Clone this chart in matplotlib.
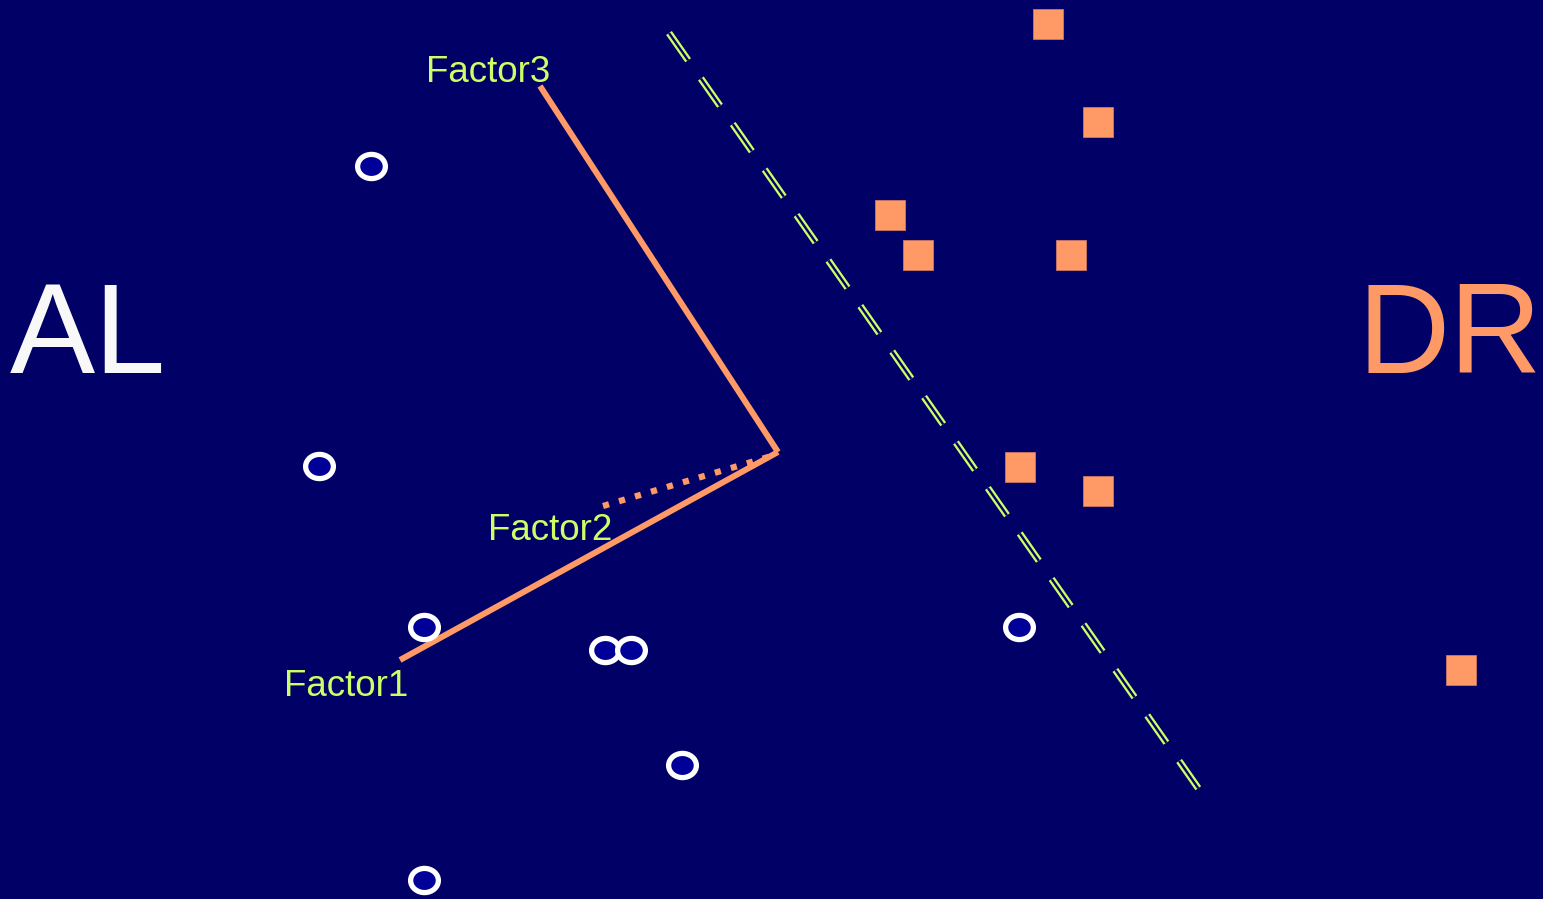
import numpy as np
import matplotlib.pyplot as plt
from matplotlib.path import Path
from matplotlib.transforms import Affine2D

plt.rcParams['font.family'] = ['Liberation Sans', 'DejaVu Sans']
plt.rcParams['lines.scale_dashes'] = False

# points (pixel-like coordinates, y down)
al_x = [371, 319, 424, 605, 631, 682, 424, 1019]
al_y = [166, 466, 627, 650, 650, 765, 880, 627]
dr_x = [1048, 1098, 890, 918, 1071, 1020, 1098, 1461]
dr_y = [24, 122, 215, 255, 255, 467, 491, 670]

# factor vectors, all from one origin
origin = (778, 452)
factor_names = ['Factor1', 'Factor2', 'Factor3']
factor_end_x = [400, 603, 540]
factor_end_y = [660, 506, 86]
label_x = [346, 550, 488]
label_y = [696, 540, 82]

# separating line
sep_x = [669, 1203]
sep_y = [33, 795]

BG = '#000066'
ORANGE = '#FF9966'
YELLOW = '#CCFF66'

fig = plt.figure(figsize=(15.43, 8.99), dpi=100, facecolor=BG)
ax = fig.add_axes([0, 0, 1, 1])
ax.set_facecolor(BG)
ax.set_xlim(0, 1543)
ax.set_ylim(899, 0)
ax.axis('off')

# double dashed line: yellow wide line with a navy centre
ax.plot(sep_x, sep_y, color=YELLOW, lw=5.0, dashes=(24, 16),
        dash_capstyle='butt', zorder=2)
ax.plot(sep_x, sep_y, color=BG, lw=1.7, dashes=(24, 16),
        dash_capstyle='butt', zorder=3)

# factor lines
for name, ex, ey in zip(factor_names, factor_end_x, factor_end_y):
    if name == 'Factor2':
        # drawn from the tip so the dot pattern starts there
        ax.plot([ex, origin[0] - 3], [ey, origin[1] + 3], color=ORANGE, lw=4.5,
                dashes=(4.5, 7.5), dash_capstyle='butt', zorder=4)
    else:
        ax.plot([origin[0], ex], [origin[1], ey], color=ORANGE, lw=4.3,
                solid_capstyle='butt', zorder=4)

for name, lx, ly in zip(factor_names, label_x, label_y):
    ax.text(lx, ly, name, color=YELLOW, fontsize=26.5, ha='center', va='baseline', zorder=6)

# markers
ellipse = Affine2D().scale(1.0, 0.87).transform_path(Path.unit_circle())
ax.plot(al_x, al_y, ls='none', marker=ellipse, ms=20, mew=3.8,
        mfc='#000099', mec='white', zorder=5)
ax.plot(dr_x, dr_y, ls='none', marker='s', ms=21, mew=0.6,
        mfc=ORANGE, mec='#CC7766', zorder=5)

ax.text(88, 373, 'AL', color='#F8F8F8', fontsize=92, ha='center', va='baseline')
ax.text(1450, 373, 'DR', color=ORANGE, fontsize=92, ha='center', va='baseline')

fig.savefig('out.png', dpi=100, facecolor=BG)
